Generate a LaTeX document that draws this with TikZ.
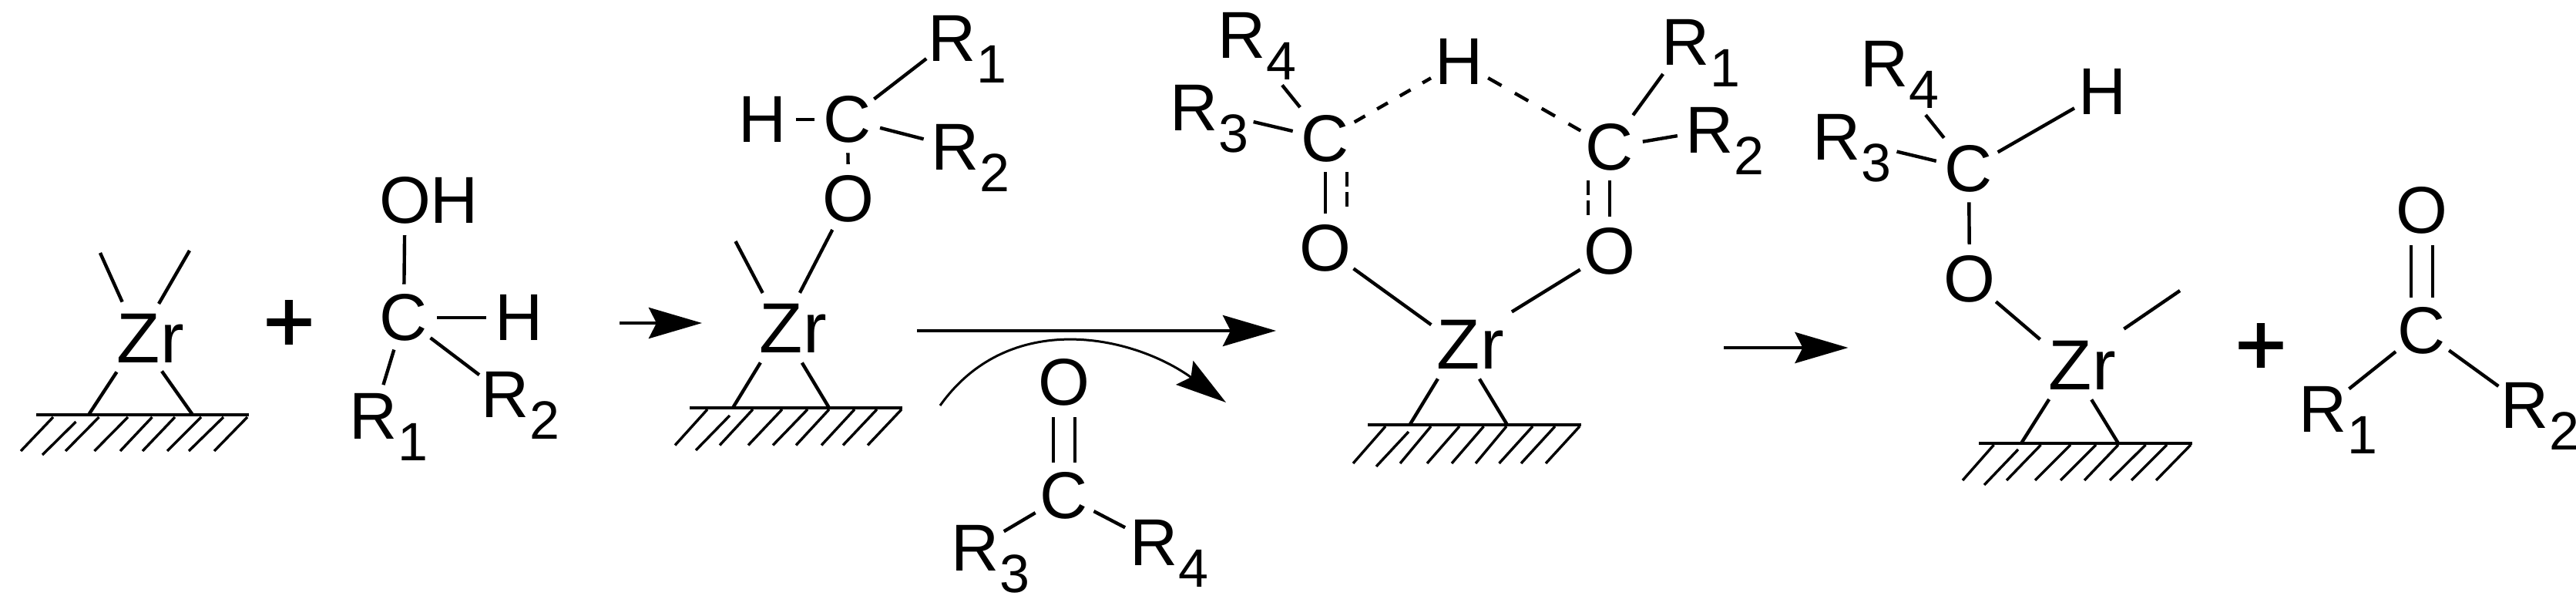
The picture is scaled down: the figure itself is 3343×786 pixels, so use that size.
\documentclass[tikz,border=0pt]{standalone}
\usepackage{fontspec}
\setmainfont{Liberation Sans}
\usetikzlibrary{arrows.meta}
\newcommand\Rsub[1]{R\rlap{\smash{\raisebox{-14pt}{\fontsize{35}{35}\selectfont #1}}}}
\newcommand\Zrtxt{Z\rlap{r}}
\tikzset{
  atom/.style={circle,inner sep=0pt,outer sep=0pt,minimum size=42pt,font=\fontsize{43}{43}\selectfont},
  zratom/.style={circle,inner sep=0pt,outer sep=0pt,minimum size=52pt,font=\fontsize{46}{46}\selectfont},
  plusatom/.style={inner sep=0pt,outer sep=0pt,font=\fontsize{57}{57}\selectfont\addfontfeature{FakeBold=1.6}},
  bond/.style={line width=2.2pt,black},
  dbond/.style={line width=2.2pt,black,dash pattern=on 8pt off 9pt},
  dbondb/.style={line width=2.2pt,black,dash pattern=on 10pt off 10pt},
  dbondc/.style={line width=2.2pt,black,dash pattern=on 9.5pt off 3.5pt},
  surface/.style={line width=2pt,black},
  hatchline/.style={line width=1.7pt,black},
  rxn/.style={line width=2.4pt,black,-{Stealth[length=34.5pt,width=20pt,inset=5pt]}},
  rxncurve/.style={line width=1.5pt,black,-{Stealth[length=33pt,width=19pt,inset=5pt]}}
}
\begin{document}
\begin{tikzpicture}[x=0.5pt,y=-0.5pt]
\useasboundingbox (0,0) rectangle (3343,786);

% ---------- structure 1
\node[zratom] (ZrA) at (180,439) {\Zrtxt};
\coordinate (ZrAu) at (130,328);
\coordinate (ZrAv) at (246,325);
\coordinate (ZrAl) at (115,538);
\coordinate (ZrAr) at (250,538);
\coordinate (GAl) at (47,538);
\coordinate (GAr) at (323,538);
\draw[bond] (ZrA) -- (ZrAu);
\draw[bond] (ZrA) -- (ZrAv);
\draw[bond] (ZrA) -- (ZrAl);
\draw[bond] (ZrA) -- (ZrAr);
\draw[surface] (GAl) -- (GAr);
\foreach \a/\b in {69/27,128.5/85,166/122.5,197.5/156,227/185,261/217,290/245,321/278}
  \draw[hatchline] (\a,541) -- (\b,585);
\draw[hatchline] (98.5,547) -- (55,590);

\node[plusatom] (plusA) at (375,423) {+};

\node[atom] (CA) at (524,412) {C};
\node[atom] (OA) at (525.5,260) {O\rlap{H}};
\node[atom] (HA) at (673.5,412) {H};
\node[atom] (RaA) at (485,540) {\Rsub{1}};
\node[atom] (RbA) at (656,512) {\Rsub{2}};
\draw[bond] (CA) -- (OA);
\draw[bond] (CA) -- (HA);
\draw[bond] (CA) -- (RaA);
\draw[bond] (CA) -- (RbA);

% ---------- arrow 1
\coordinate (ArAs) at (804,419);
\coordinate (ArAe) at (911,419);
\draw[rxn] (ArAs) -- (ArAe);

% ---------- structure 2
\node[atom] (HB) at (990,155) {H};
\node[atom] (CB) at (1100,155) {C};
\node[atom] (RaB) at (1236,50) {\Rsub{1}};
\node[atom] (RbB) at (1240,191) {\Rsub{2}};
\node[atom] (OB) at (1101,258) {O};
\node[zratom] (ZrB) at (1014,426) {\Zrtxt};
\coordinate (ZrBu) at (954.5,313);
\coordinate (ZrBl) at (951,529);
\coordinate (ZrBr) at (1076,529);
\coordinate (GBl) at (895,529);
\coordinate (GBr) at (1171,529);
\draw[bond] (HB) -- (CB);
\draw[bond] (CB) -- (RaB);
\draw[bond] (CB) -- (RbB);
\draw[bond] (CB) -- (OB);
\draw[bond] (OB) -- (ZrB);
\draw[bond] (ZrB) -- (ZrBu);
\draw[bond] (ZrB) -- (ZrBl);
\draw[bond] (ZrB) -- (ZrBr);
\draw[surface] (GBl) -- (GBr);
\foreach \a/\b in {918/876,977/934,1015/971,1048/1003,1076/1033,1109/1066,1138/1094,1170/1126}
  \draw[hatchline] (\a,531) -- (\b,577.5);
\draw[hatchline] (947,539) -- (903,584);

% ---------- long arrow and curved arrow
\coordinate (ArBs) at (1190,429);
\coordinate (ArBe) at (1656,429);
\draw[rxn] (ArBs) -- (ArBe);
\coordinate (CvS) at (1220,526);
\coordinate (CvA) at (1310,400);
\coordinate (CvB) at (1470,435);
\coordinate (CvE) at (1591,522);
\draw[rxncurve] (CvS) .. controls (CvA) and (CvB) .. (CvE);

% ---------- reagent
\node[atom] (OC) at (1381,496) {O};
\node[atom] (CC) at (1381,643) {C};
\node[atom] (RaC) at (1266,711) {\Rsub{3}};
\node[atom] (RbC) at (1498,704) {\Rsub{4}};
\draw[bond] ([xshift=-7pt]CC.north) -- ([xshift=-7pt]OC.south);
\draw[bond] ([xshift=7pt]CC.north) -- ([xshift=7pt]OC.south);
\draw[bond] (CC) -- (RaC);
\draw[bond] (CC) -- (RbC);

% ---------- structure 3
\node[atom] (CD) at (1720,180) {C};
\node[atom] (CE) at (2089,191) {C};
\node[atom] (HD) at (1894,80) {H};
\node[atom] (RdD) at (1612,46) {\Rsub{4}};
\node[atom] (RcD) at (1550,140) {\Rsub{3}};
\node[atom] (RaD) at (2188,55) {\Rsub{1}};
\node[atom] (RbD) at (2219,169) {\Rsub{2}};
\node[atom] (OD) at (1720,322) {O};
\node[atom] (OE) at (2089,326) {O};
\node[zratom] (ZrD) at (1893,447) {\Zrtxt};
\coordinate (ZrDl) at (1829.5,551);
\coordinate (ZrDr) at (1956,551);
\coordinate (GDl) at (1775,551);
\coordinate (GDr) at (2052,551);
\draw[bond,shorten <=4.5pt,shorten >=20pt] (CD) -- (RdD);
\draw[bond,shorten >=18pt] (CD) -- (RcD);
\draw[dbond] (CD) -- (HD);
\draw[dbondb] (HD) -- (CE);
\draw[bond,shorten <=4pt,shorten >=4pt] (CE) -- (RaD);
\draw[bond] (CE) -- (RbD);
\draw[bond] (CD) -- (OD);
\draw[bond] (CE) -- (OE);
\draw[dbondc] ([xshift=14pt]CD.south) -- ([xshift=14pt,yshift=3.5pt]OD.north);
\draw[dbondc] ([xshift=-14pt]CE.south) -- ([xshift=-14pt]OE.north);
\draw[bond,shorten >=-4pt] (OD) -- (ZrD);
\draw[bond,shorten >=14.5pt] (OE) -- (ZrD);
\draw[bond] (ZrD) -- (ZrDl);
\draw[bond] (ZrD) -- (ZrDr);
\draw[surface] (GDl) -- (GDr);
\foreach \a/\b in {1798/1756,1857/1817,1894/1852,1925.5/1884,1955/1915,1989/1945.5,2018/1974,2050/2006}
  \draw[hatchline] (\a,553) -- (\b,601);
\draw[hatchline] (1828,560) -- (1786,605);

% ---------- arrow 3
\coordinate (ArCs) at (2237,451);
\coordinate (ArCe) at (2398.5,451);
\draw[rxn] (ArCs) -- (ArCe);

% ---------- structure 4
\node[atom] (CF) at (2555,219) {C};
\node[atom] (HF) at (2729,119) {H};
\node[atom] (RdF) at (2446,83) {\Rsub{4}};
\node[atom] (RcF) at (2384,178) {\Rsub{3}};
\node[atom] (OF) at (2556,362) {O};
\node[zratom] (ZrF) at (2687,474) {\Zrtxt};
\coordinate (ZrFu) at (2829,377);
\coordinate (ZrFl) at (2623,575);
\coordinate (ZrFr) at (2749,575);
\coordinate (GFl) at (2568,575);
\coordinate (GFr) at (2845,575);
\draw[bond] (CF) -- (HF);
\draw[bond,shorten <=4pt,shorten >=21pt] (CF) -- (RdF);
\draw[bond,shorten >=18.5pt] (CF) -- (RcF);
\draw[bond] (CF) -- (OF);
\draw[bond] (OF) -- (ZrF);
\draw[bond,shorten <=16pt] (ZrF) -- (ZrFu);
\draw[bond] (ZrF) -- (ZrFl);
\draw[bond] (ZrF) -- (ZrFr);
\draw[surface] (GFl) -- (GFr);
\foreach \a/\b in {2587.5/2547,2648.5/2604,2687/2641,2720/2674,2749/2705,2784.5/2738,2812/2766,2843/2798}
  \draw[hatchline] (\a,577) -- (\b,623);
\draw[hatchline] (2619,583) -- (2575,629);

\node[plusatom] (plusB) at (2934,453) {+};

% ---------- product ketone
\node[atom] (OG) at (3143,273) {O};
\node[atom] (CG) at (3143,429) {C};
\node[atom] (RaG) at (3015,531) {\Rsub{1}};
\node[atom] (RbG) at (3277,526) {\Rsub{2}};
\draw[bond] ([xshift=-7pt]CG.north) -- ([xshift=-7pt]OG.south);
\draw[bond] ([xshift=7pt]CG.north) -- ([xshift=7pt]OG.south);
\draw[bond] (CG) -- (RaG);
\draw[bond] (CG) -- (RbG);
\end{tikzpicture}
\end{document}
